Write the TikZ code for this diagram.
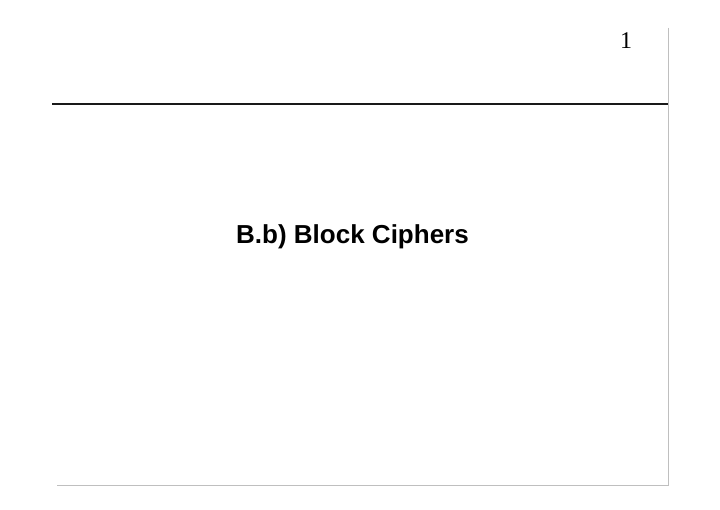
\documentclass[tikz,border=0pt]{standalone}
\usepackage{fontspec}
\setmainfont{Liberation Serif}
\newfontfamily\titlefont{Liberation Sans}
\begin{document}
\begin{tikzpicture}[x=1pt,y=-1pt,
  rule/.style={line width=2pt,black!90},
  frame/.style={line width=1pt,black!25},
  titlestyle/.style={font=\titlefont\bfseries\fontsize{26}{30}\selectfont,inner sep=0pt,anchor=base},
  pagenum/.style={font=\fontsize{24}{28}\selectfont,inner sep=0pt,anchor=base}]
\useasboundingbox[fill=white] (0,0) rectangle (720,510);
\coordinate (rl) at (52,104.5);
\coordinate (rr) at (668,104.5);
\coordinate (vt) at (668,28);
\coordinate (vb) at (668,485);
\coordinate (bl) at (57,485);
\draw[frame] (vt) -- (vb) -- (bl);
\draw[rule] (rl) -- (rr);
\node[pagenum] (num) at (626,48.3) {1};
\node[titlestyle] (title) at (352.5,243.5) {B.b) Block Ciphers};
\end{tikzpicture}
\end{document}
